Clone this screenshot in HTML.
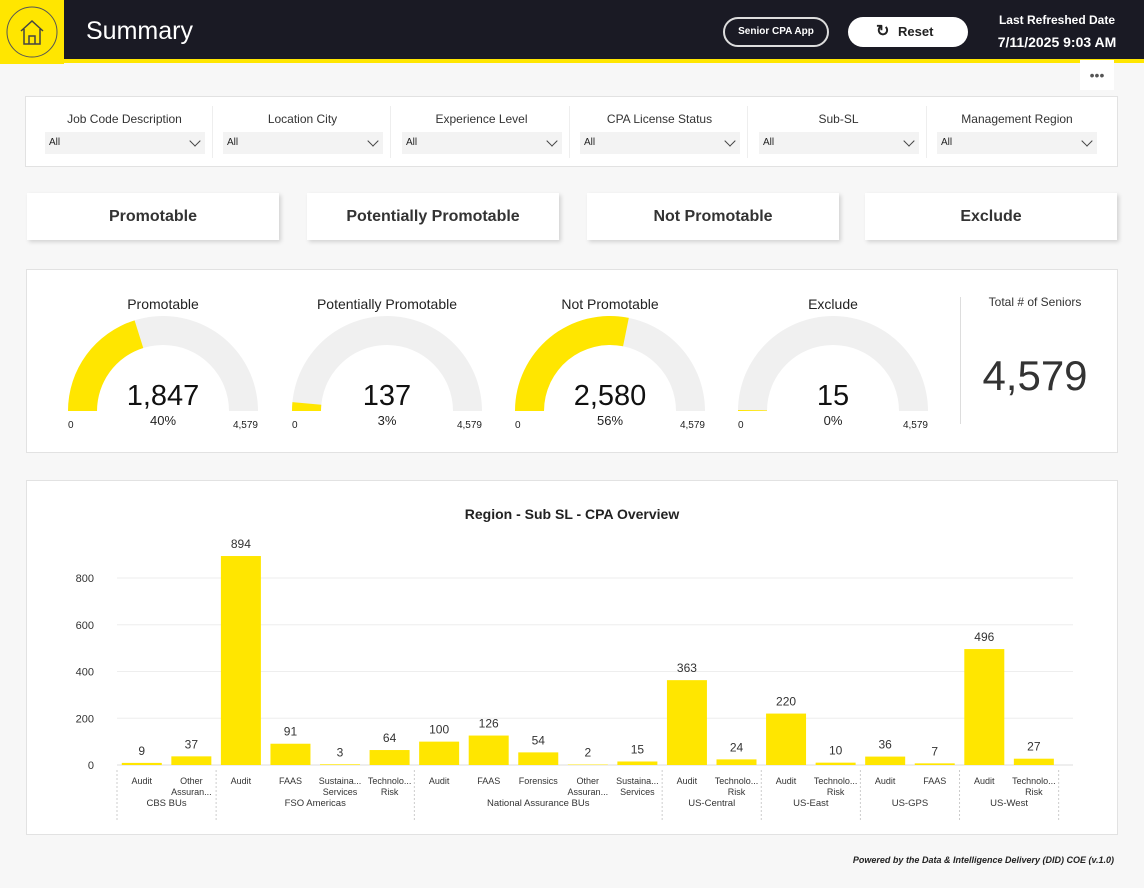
<!DOCTYPE html>
<html><head><meta charset="utf-8">
<style>
*{box-sizing:border-box;margin:0;padding:0}
body{width:1144px;height:888px;background:#f7f7f7;font-family:"Liberation Sans",sans-serif;position:relative;overflow:hidden;color:#222}
.abs{position:absolute}
.hdr{left:0;top:0;width:1144px;height:63px;background:#1a1a24;border-bottom:4px solid #ffe600}
.card{background:#fff;border:1px solid #e2e2e2}
.slicer{top:106px;width:176px;height:52px;border-right:1px solid #eee}
.slicer .t{font-size:12px;color:#333;text-align:center;margin-top:6px}
.slicer .dd{margin:6px 0 0 8px;width:160px;height:22px;background:#f3f3f3;font-size:10px;padding:5px 4px;position:relative}
.slicer .dd:after{content:"";position:absolute;right:6px;top:5px;width:7px;height:7px;border-right:1.3px solid #444;border-bottom:1.3px solid #444;transform:rotate(45deg)}
.btn{top:193px;width:252px;height:47px;background:#fff;box-shadow:2px 2px 4px rgba(0,0,0,.15);font-size:16px;font-weight:bold;text-align:center;line-height:47px;color:#333}
</style></head><body>
<div class="abs hdr"></div>
<div class="abs" style="left:0;top:0;width:64px;height:64px;background:#ffe600;">
<svg width="64" height="64"><circle cx="32" cy="32" r="25" fill="none" stroke="#555" stroke-width="1"/><path d="M21 31 L32 21 L43 31 M24 29 V44 H40 V29 M29 44 V36 H35 V44" fill="none" stroke="#444" stroke-width="1.5"/></svg></div>
<div class="abs" style="left:86px;top:17px;font-size:25px;color:#fff">Summary</div>
<div class="abs" style="left:723px;top:17px;width:106px;height:30px;border:2px solid #ddd;border-radius:15px;color:#fff;font-size:10px;font-weight:bold;text-align:center;line-height:26px">Senior CPA App</div>
<div class="abs" style="left:848px;top:17px;width:120px;height:30px;background:#fff;border-radius:15px;font-size:13px;font-weight:bold;line-height:30px;padding-left:50px">Reset<span style="position:absolute;left:28px;top:0;font-size:16px">↻</span></div>
<div class="abs" style="left:986px;top:13px;width:142px;text-align:center;color:#fff;font-size:12px;font-weight:bold">Last Refreshed Date</div>
<div class="abs" style="left:986px;top:34px;width:142px;text-align:center;color:#fff;font-size:14px;font-weight:bold">7/11/2025 9:03 AM</div>
<div class="abs" style="left:1080px;top:60px;width:34px;height:30px;background:#fff;font-size:14px;text-align:center;line-height:30px;color:#555">•••</div>

<div class="abs card" style="left:25px;top:96px;width:1093px;height:71px"></div>
<div class="abs slicer" style="left:37px"><div class="t">Job Code Description</div><div class="dd">All</div></div>
<div class="abs slicer" style="left:215px"><div class="t">Location City</div><div class="dd">All</div></div>
<div class="abs slicer" style="left:394px"><div class="t">Experience Level</div><div class="dd">All</div></div>
<div class="abs slicer" style="left:572px"><div class="t">CPA License Status</div><div class="dd">All</div></div>
<div class="abs slicer" style="left:751px"><div class="t">Sub-SL</div><div class="dd">All</div></div>
<div class="abs slicer" style="left:929px;border-right:none"><div class="t">Management Region</div><div class="dd">All</div></div>

<div class="abs btn" style="left:27px">Promotable</div>
<div class="abs btn" style="left:307px">Potentially Promotable</div>
<div class="abs btn" style="left:587px">Not Promotable</div>
<div class="abs btn" style="left:865px">Exclude</div>

<div class="abs card" style="left:26px;top:269px;width:1092px;height:184px"></div>
<svg class="abs" id="gauges" style="left:0;top:0" width="1144" height="460"></svg>
<div class="abs" style="left:960px;top:297px;width:1px;height:127px;background:#ddd"></div>
<div class="abs" style="left:962px;top:295px;width:146px;text-align:center;font-size:12px;color:#333">Total # of Seniors</div>
<div class="abs" style="left:962px;top:352px;width:146px;text-align:center;font-size:42px;color:#333">4,579</div>

<div class="abs card" style="left:26px;top:480px;width:1092px;height:355px"></div>
<svg class="abs" id="chart" style="left:0;top:0" width="1144" height="888"></svg>
<div class="abs" style="right:30px;top:855px;font-size:9px;font-style:italic;font-weight:bold;color:#222">Powered by the Data &amp; Intelligence Delivery (DID) COE (v.1.0)</div>

<script>
const NS="http://www.w3.org/2000/svg";
function mk(p,t,a,txt){const e=document.createElementNS(NS,t);for(const k in a)e.setAttribute(k,a[k]);if(txt!==undefined)e.textContent=txt;p.appendChild(e);return e;}
// gauges
const gaugeTitles=["Promotable","Potentially Promotable","Not Promotable","Exclude"];
const gaugeValues=[1847,137,2580,15];
const gaugeMax=4579;
const g=document.getElementById('gauges');
const gcx=[163,387,610,833],gcy=411,R=95,r=66;
function arc(cx,f0,f1){const a0=Math.PI*(1-f0),a1=Math.PI*(1-f1);
const p=(rad,a)=>[cx+rad*Math.cos(a),gcy-rad*Math.sin(a)];
const [x0,y0]=p(R,a0),[x1,y1]=p(R,a1),[x2,y2]=p(r,a1),[x3,y3]=p(r,a0);
return `M${x0} ${y0} A${R} ${R} 0 0 1 ${x1} ${y1} L${x2} ${y2} A${r} ${r} 0 0 0 ${x3} ${y3}Z`;}
gaugeValues.forEach((v,i)=>{const cx=gcx[i],f=v/gaugeMax;
let e=mk(g,'path',{d:arc(cx,0,1),fill:'#f0f0f0'});


e=mk(g,'path',{d:arc(cx,0,Math.max(f,0.003)),fill:'#ffe600'});


e=mk(g,'text',{x:cx,y:309,'text-anchor':'middle','font-size':14,fill:'#222'},gaugeTitles[i]);


e=mk(g,'text',{x:cx,y:405,'text-anchor':'middle','font-size':29,fill:'#111'},v.toLocaleString('en-US'));


e=mk(g,'text',{x:cx,y:425,'text-anchor':'middle','font-size':13,fill:'#222'},Math.round(f*100)+'%');


e=mk(g,'text',{x:cx-95,y:428,'font-size':10,fill:'#222'},'0');


e=mk(g,'text',{x:cx+95,y:428,'text-anchor':'end','font-size':10,fill:'#222'},'4,579');


});
// bar chart
const categories=["Audit","Other Assuran...","Audit","FAAS","Sustaina... Services","Technolo... Risk","Audit","FAAS","Forensics","Other Assuran...","Sustaina... Services","Audit","Technolo... Risk","Audit","Technolo... Risk","Audit","FAAS","Audit","Technolo... Risk"];
const values=[9,37,894,91,3,64,100,126,54,2,15,363,24,220,10,36,7,496,27];
const groups=["CBS BUs","FSO Americas","National Assurance BUs","US-Central","US-East","US-GPS","US-West"];
const groupSizes=[2,4,5,2,2,2,2];
const yTicks=[0,200,400,600,800];
const c=document.getElementById('chart');
const x0=117,band=49.56,y0=765,ys=187/800;
const Y=v=>y0-v*ys, X=i=>x0+band*i;
let e=mk(c,'text',{x:572,y:519,'text-anchor':'middle','font-size':14,'font-weight':'bold',fill:'#222'},'Region - Sub SL - CPA Overview');


yTicks.forEach(t=>{
 let l=mk(c,'line',{x1:x0,x2:1073,y1:Y(t),y2:Y(t),stroke:t?'#eeeeee':'#ddd'});
 
 
 let tx=mk(c,'text',{x:94,y:Y(t)+4,'text-anchor':'end','font-size':11,fill:'#333'},t);
 
 
});
values.forEach((v,i)=>{const cx=X(i)+band/2;
 let b=mk(c,'rect',{x:cx-20,y:Y(v),width:40,height:v*ys,fill:'#ffe600'});
 
 
 let t=mk(c,'text',{x:cx,y:Y(v)-8,'text-anchor':'middle','font-size':12,fill:'#333'},v);
 
 
 categories[i].split(' ').forEach((w,k)=>{
  let tt=mk(c,'text',{x:cx,y:784+k*11,'text-anchor':'middle','font-size':9,fill:'#333'},w);
  
  
 });
});
let idx=0;
groupSizes.forEach((n,gi)=>{const s=X(idx),en=X(idx+n);
 let l=mk(c,'line',{x1:s,x2:s,y1:770,y2:820,stroke:'#ccc','stroke-dasharray':'2,2'});
 
 
 let t=mk(c,'text',{x:(s+en)/2,y:806,'text-anchor':'middle','font-size':9.5,fill:'#333'},groups[gi]);
 
 
 idx+=n;});
let l2=mk(c,'line',{x1:X(idx),x2:X(idx),y1:770,y2:820,stroke:'#ccc','stroke-dasharray':'2,2'});


</script>
</body></html>
